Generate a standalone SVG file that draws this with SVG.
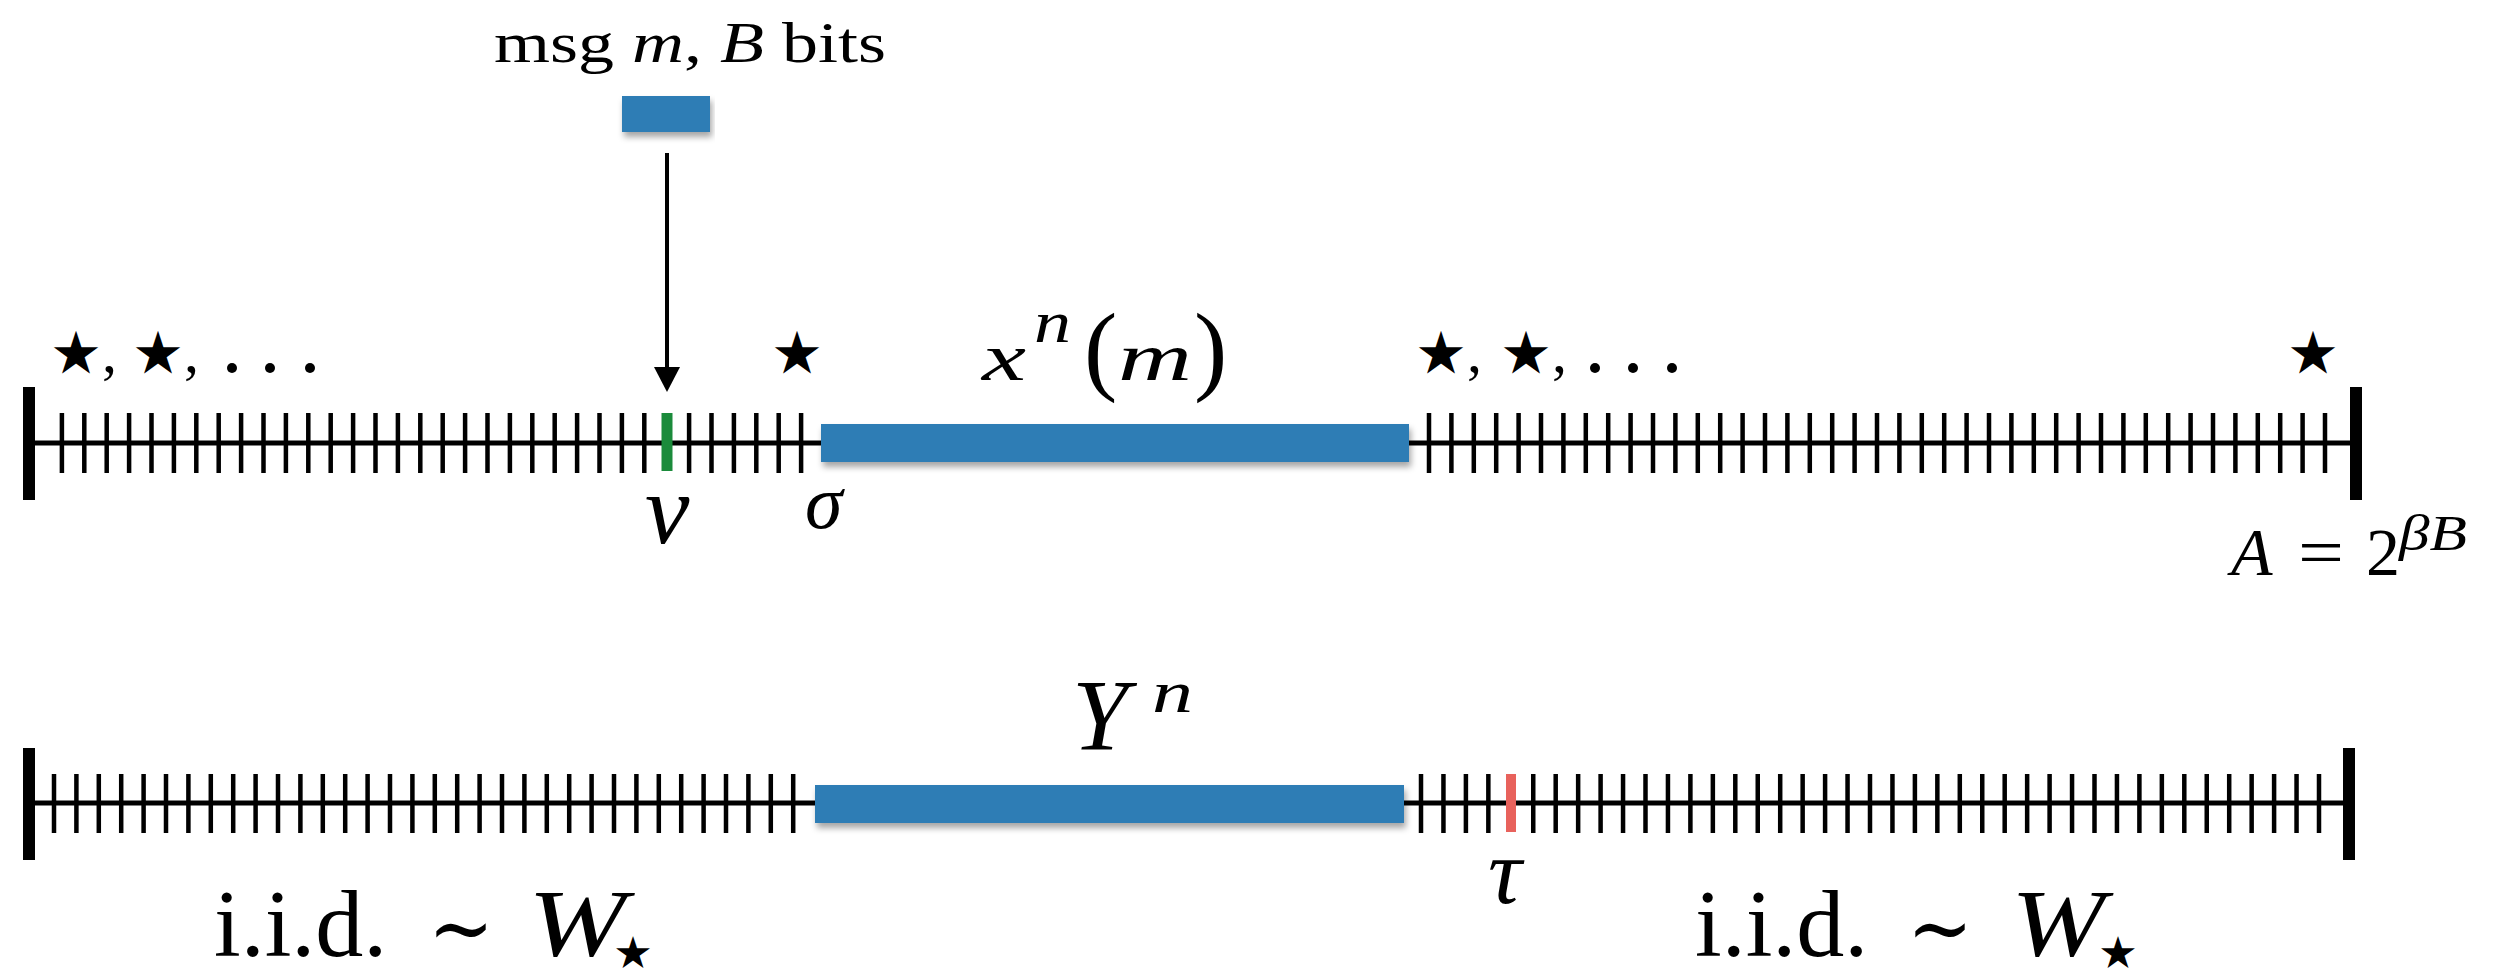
<svg xmlns="http://www.w3.org/2000/svg" width="2503" height="978" viewBox="0 0 2503 978">
<defs>
<style>
.bg{fill:#ffffff}
.axis{stroke:#000;stroke-width:5;fill:none}
.tick{stroke:#000;stroke-width:4.5;fill:none}
.end{fill:#000}
.bar{fill:#2e7db5;filter:url(#sh)}
.rm{font-family:"Liberation Serif","DejaVu Serif",serif;fill:#000}
.it{font-family:"Liberation Serif","DejaVu Serif",serif;font-style:italic;fill:#000}
.star{font-family:"Noto Sans CJK JP","DejaVu Sans",sans-serif;fill:#000;text-anchor:middle}
.conn{stroke:#000;stroke-width:4;fill:none}
</style>
<filter id="sh" x="-5%" y="-40%" width="110%" height="200%">
<feDropShadow dx="2" dy="5" stdDeviation="3" flood-color="#000" flood-opacity="0.35"/>
</filter>
<marker id="ah" viewBox="0 0 25 26" refX="0" refY="13" markerWidth="25" markerHeight="26" markerUnits="userSpaceOnUse" orient="auto">
<path d="M0,0 L25,13 L0,26 z" fill="#000"/>
</marker>
</defs>
<rect class="bg" x="0" y="0" width="2503" height="978"/>

<g id="msg-block">
<text class="rm" x="494" y="62" font-size="56" textLength="392" lengthAdjust="spacingAndGlyphs">msg <tspan class="it">m</tspan>, <tspan class="it">B</tspan> bits</text>
<rect class="bar" x="622" y="96" width="88" height="36"/>
</g>

<g id="connectors">
<line class="conn" x1="667" y1="153" x2="667" y2="367" marker-end="url(#ah)"/>
</g>

<g id="top-track">
<path class="axis" d="M29 443H2356"/>
<rect class="end" x="23" y="387" width="12" height="113"/>
<rect class="end" x="2350" y="387" width="12" height="113"/>
<path class="tick" d="M61.9 413v60 m22.4 -60v60m22.4 -60v60m22.4 -60v60m22.4 -60v60m22.4 -60v60 m22.4 -60v60m22.4 -60v60m22.4 -60v60m22.4 -60v60m22.4 -60v60 m22.4 -60v60m22.4 -60v60m22.4 -60v60m22.4 -60v60m22.4 -60v60 m22.4 -60v60m22.4 -60v60m22.4 -60v60m22.4 -60v60m22.4 -60v60 m22.4 -60v60m22.4 -60v60m22.4 -60v60m22.4 -60v60m22.4 -60v60 m22.4 -60v60 m44.8 -60v60 m22.4 -60v60m22.4 -60v60m22.4 -60v60m22.4 -60v60m22.4 -60v60"/>
<path class="tick" d="M1429 413v60 m22.4 -60v60m22.4 -60v60m22.4 -60v60m22.4 -60v60m22.4 -60v60 m22.4 -60v60m22.4 -60v60m22.4 -60v60m22.4 -60v60m22.4 -60v60 m22.4 -60v60m22.4 -60v60m22.4 -60v60m22.4 -60v60m22.4 -60v60 m22.4 -60v60m22.4 -60v60m22.4 -60v60m22.4 -60v60m22.4 -60v60 m22.4 -60v60m22.4 -60v60m22.4 -60v60m22.4 -60v60m22.4 -60v60 m22.4 -60v60m22.4 -60v60m22.4 -60v60m22.4 -60v60m22.4 -60v60 m22.4 -60v60m22.4 -60v60m22.4 -60v60m22.4 -60v60m22.4 -60v60 m22.4 -60v60m22.4 -60v60m22.4 -60v60m22.4 -60v60m22.4 -60v60"/>
<line x1="667" y1="413" x2="667" y2="471" stroke="#1b8b3b" stroke-width="11"/>
<rect class="bar" x="821" y="424" width="588" height="38"/>
</g>

<g id="top-labels">
<text class="star" x="76" y="370" font-size="48">★</text>
<text class="rm" x="102" y="372" font-size="60">,</text>
<text class="star" x="158" y="370" font-size="48">★</text>
<text class="rm" x="184" y="372" font-size="60">,</text>
<circle cx="232" cy="368" r="5"/><circle cx="270" cy="368" r="5"/><circle cx="310" cy="368" r="5"/>
<text class="star" x="797" y="370" font-size="48">★</text>
<text class="star" x="1441" y="370" font-size="48">★</text>
<text class="rm" x="1467" y="372" font-size="60">,</text>
<text class="star" x="1526" y="370" font-size="48">★</text>
<text class="rm" x="1552" y="372" font-size="60">,</text>
<circle cx="1595" cy="368" r="5"/><circle cx="1633" cy="368" r="5"/><circle cx="1672" cy="368" r="5"/>
<text class="star" x="2313" y="370" font-size="48">★</text>
<text class="it" x="982" y="380" font-size="68" textLength="44" lengthAdjust="spacingAndGlyphs">x</text>
<text class="it" x="1034" y="342" font-size="60" textLength="37" lengthAdjust="spacingAndGlyphs">n</text>
<text class="rm" x="1084" y="382" font-size="100">(</text>
<text class="it" x="1118" y="380" font-size="68" textLength="74" lengthAdjust="spacingAndGlyphs">m</text>
<text class="rm" x="1194" y="382" font-size="100">)</text>
<text class="it" x="645" y="543" font-size="100">ν</text>
<text class="it" x="805" y="528" font-size="76">σ</text>
<text class="it" x="2231" y="575" font-size="68">A</text>
<text class="rm" x="2298" y="575" font-size="68" textLength="46" lengthAdjust="spacingAndGlyphs">=</text>
<text class="rm" x="2366" y="575" font-size="68">2</text>
<text class="it" x="2399" y="550" font-size="50" textLength="68" lengthAdjust="spacingAndGlyphs">βB</text>
</g>

<g id="bottom-track">
<path class="axis" d="M29 803H2349"/>
<rect class="end" x="23" y="748" width="12" height="112"/>
<rect class="end" x="2343" y="748" width="12" height="112"/>
<path class="tick" d="M54 774v59 m22.4 -59v59m22.4 -59v59m22.4 -59v59m22.4 -59v59m22.4 -59v59 m22.4 -59v59m22.4 -59v59m22.4 -59v59m22.4 -59v59m22.4 -59v59 m22.4 -59v59m22.4 -59v59m22.4 -59v59m22.4 -59v59m22.4 -59v59 m22.4 -59v59m22.4 -59v59m22.4 -59v59m22.4 -59v59m22.4 -59v59 m22.4 -59v59m22.4 -59v59m22.4 -59v59m22.4 -59v59m22.4 -59v59 m22.4 -59v59m22.4 -59v59m22.4 -59v59m22.4 -59v59m22.4 -59v59 m22.4 -59v59m22.4 -59v59m22.4 -59v59"/>
<path class="tick" d="M1421 774v59 m22.45 -59v59m22.45 -59v59m22.45 -59v59 m44.9 -59v59 m22.45 -59v59m22.45 -59v59m22.45 -59v59m22.45 -59v59m22.45 -59v59 m22.45 -59v59m22.45 -59v59m22.45 -59v59m22.45 -59v59m22.45 -59v59 m22.45 -59v59m22.45 -59v59m22.45 -59v59m22.45 -59v59m22.45 -59v59 m22.45 -59v59m22.45 -59v59m22.45 -59v59m22.45 -59v59m22.45 -59v59 m22.45 -59v59m22.45 -59v59m22.45 -59v59m22.45 -59v59m22.45 -59v59 m22.45 -59v59m22.45 -59v59m22.45 -59v59m22.45 -59v59m22.45 -59v59 m22.45 -59v59m22.45 -59v59m22.45 -59v59m22.45 -59v59m22.45 -59v59"/>
<line x1="1511" y1="774" x2="1511" y2="832" stroke="#e8625c" stroke-width="10"/>
<rect class="bar" x="815" y="785" width="589" height="38"/>
</g>

<g id="bottom-labels">
<text class="it" x="1072" y="750" font-size="101">Y</text>
<text class="it" x="1152" y="712" font-size="60" textLength="41" lengthAdjust="spacingAndGlyphs">n</text>
<text class="it" x="1488" y="903" font-size="94">τ</text>
<text class="rm" x="214" y="956" font-size="96">i.i.d.</text>
<text class="rm" x="428" y="958" font-size="88" textLength="66" lengthAdjust="spacingAndGlyphs">∼</text>
<text class="it" x="528" y="956" font-size="96" textLength="98" lengthAdjust="spacingAndGlyphs">W</text>
<text class="star" x="633" y="966" font-size="36">★</text>
<text class="rm" x="1695" y="956" font-size="96">i.i.d.</text>
<text class="rm" x="1907" y="958" font-size="88" textLength="66" lengthAdjust="spacingAndGlyphs">∼</text>
<text class="it" x="2011" y="956" font-size="96" textLength="94" lengthAdjust="spacingAndGlyphs">W</text>
<text class="star" x="2118" y="966" font-size="36">★</text>
</g>
</svg>
